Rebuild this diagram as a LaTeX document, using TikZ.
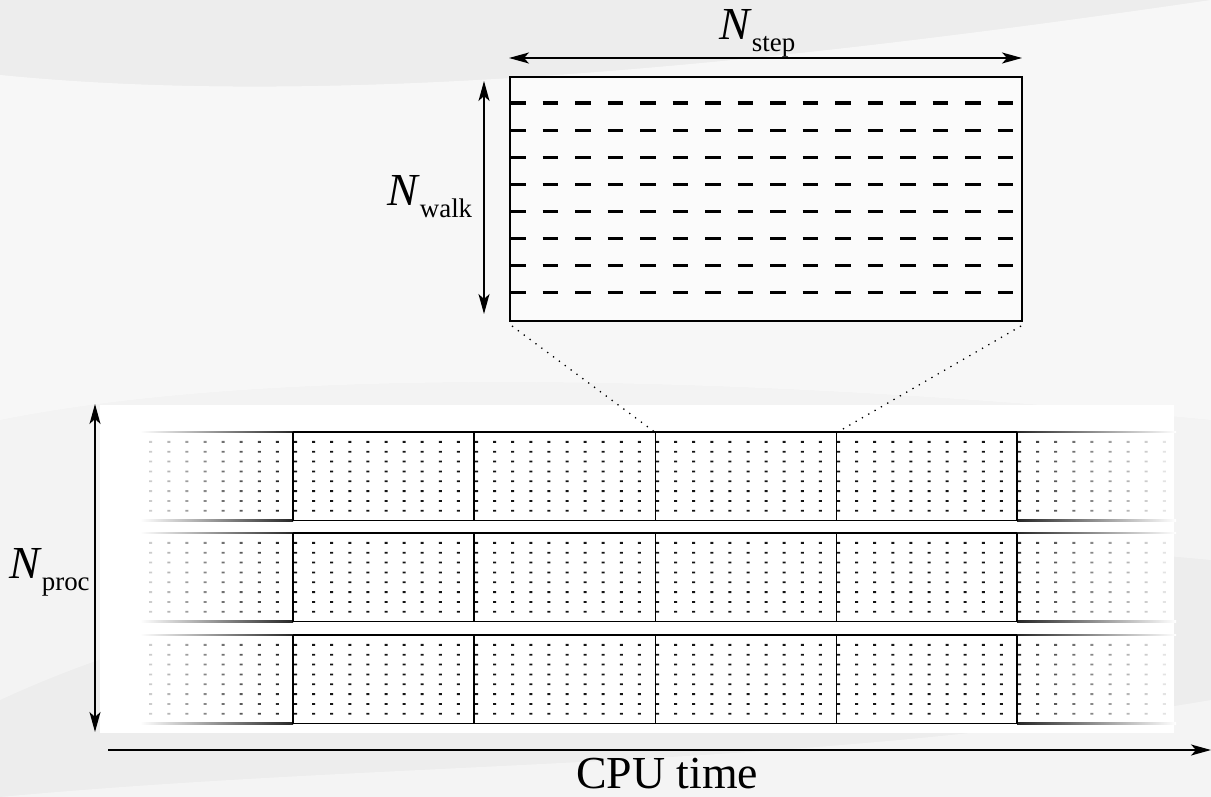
\documentclass[tikz,border=0pt]{standalone}
\usepackage{fontspec}
\setmainfont{Liberation Serif}
\usetikzlibrary{arrows.meta}
\definecolor{bgc}{RGB}{237,237,237}
\tikzset{
  dimarrow/.style={line width=1.4bp, {Stealth[length=20bp,width=11bp,inset=5bp]}-{Stealth[length=20bp,width=11bp,inset=5bp]}},
  onearrow/.style={line width=1.4bp, -{Stealth[length=20bp,width=11bp,inset=5bp]}},
  boxline/.style={line width=1.5bp},
  walkline/.style={line width=3bp, dash pattern=on 15.5bp off 17bp},
  zoomline/.style={line width=1.3bp, dash pattern=on 1.3bp off 6bp},
  cellline/.style={line width=1.5bp},
  lbl/.style={inner sep=0pt, anchor=base west},
}
\newcommand{\bigN}{\fontsize{46}{50}\selectfont\textit{N}}
\newcommand{\subtxt}[1]{\raisebox{-12bp}{\fontsize{27}{28}\selectfont #1}}
\begin{document}
\begin{tikzpicture}[x=1bp,y=-1bp]
\useasboundingbox (0,0) rectangle (1211,797);
% background
\fill[bgc] (0,0) rectangle (1211,797);
\fill[white,opacity=0.6] (0,75) .. controls (350,110) and (800,60) .. (1211,0) -- (1211,420) .. controls (800,380) and (300,360) .. (0,420) -- cycle;
\fill[white,opacity=0.35] (0,420) .. controls (300,360) and (800,380) .. (1211,420) -- (1211,560) .. controls (800,520) and (300,560) .. (0,700) -- cycle;
\fill[white,opacity=0.4] (0,797) .. controls (400,760) and (800,770) .. (1211,700) -- (1211,797) -- cycle;
% white panel
\fill[white] (100,405) rectangle (1174,733);

% ---------- top zoomed box ----------
\coordinate (boxtl) at (510,77);
\coordinate (boxbr) at (1022,321);
\fill[white,opacity=0.5] (boxtl) rectangle (boxbr);
\draw[boxline] (boxtl) rectangle (boxbr);
\foreach \j in {0,...,7}{
  \draw[walkline] (510,103+27.14*\j) -- (1015,103+27.14*\j);
}
% N_step
\coordinate (stepL) at (509,58);
\coordinate (stepR) at (1022,58);
\draw[dimarrow] (stepL) -- (stepR);
\node[lbl] (nstep) at (719,40) {\bigN\subtxt{step}};
% N_walk
\coordinate (walkT) at (484,81);
\coordinate (walkB) at (484,314);
\draw[dimarrow] (walkT) -- (walkB);
\node[lbl] (nwalk) at (387,205) {\bigN\subtxt{walk}};

% ---------- rows ----------
\foreach \t in {432,533,635}{
  % dots
  \foreach \k in {-8,...,48}{
    \pgfmathsetmacro\xx{293+18.1*\k+1}
    \pgfmathsetmacro\op{92-9*max(0,-\k)-9*max(0,\k-39)}
    \fill[black!\op] foreach \j in {1,...,8}{ (\xx,\t+9.85*\j-0.9) rectangle ++(3,1.8) };
  }
  % horizontal lines
  \draw[cellline] (293,\t) -- (1017,\t);
  \draw[cellline] (293,\t+88.5) -- (1017,\t+88.5);
  \shade[left color=white, right color=black!85] (140,\t-0.7) rectangle (293,\t+0.7);
  \shade[left color=white, right color=black!85] (140,\t+87.8) rectangle (293,\t+89.2);
  \shade[left color=black!85, right color=white] (1017,\t-0.7) rectangle (1176,\t+0.7);
  \shade[left color=black!85, right color=white] (1017,\t+87.8) rectangle (1176,\t+89.2);
  % vertical cell borders
  \foreach \x in {293,474,655.5,836.5,1017}{
    \draw[cellline] (\x,\t) -- (\x,\t+88.5);
  }
}
% zoom lines
\coordinate (zl) at (656,433);
\coordinate (zr) at (836,433);
\draw[zoomline] (boxtl |- boxbr) ++(2,5) -- (zl);
\draw[zoomline] (boxbr) ++(-1,5) -- (zr);

% N_proc
\coordinate (procT) at (95,404);
\coordinate (procB) at (95,732);
\draw[dimarrow] (procT) -- (procB);
\node[lbl] (nproc) at (9,578) {\bigN\subtxt{proc}};
% CPU time
\coordinate (cpuL) at (108,750);
\coordinate (cpuR) at (1211,750);
\draw[onearrow] (cpuL) -- (cpuR);
\node[lbl] (cpu) at (576,788) {\fontsize{46}{50}\selectfont CPU time};
\end{tikzpicture}
\end{document}
